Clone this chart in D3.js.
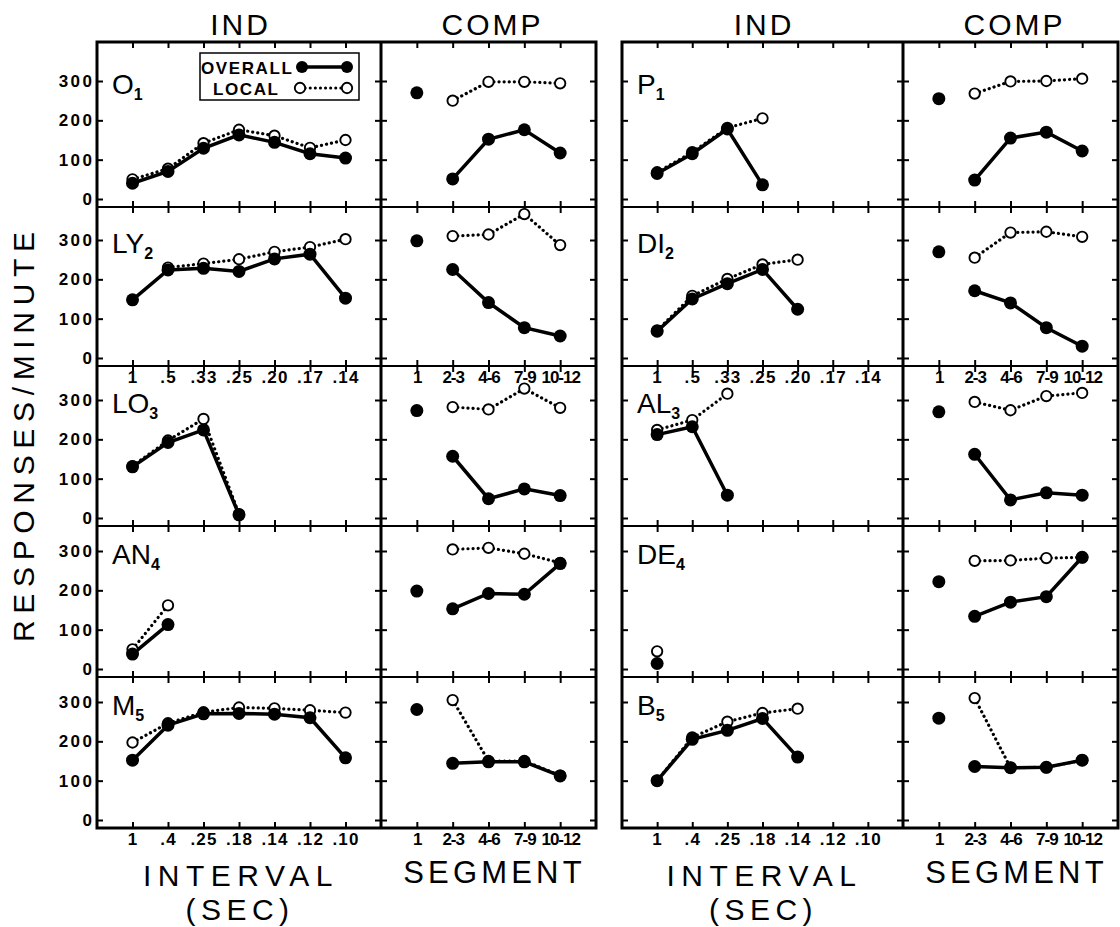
<!doctype html>
<html lang="en">
<head>
<meta charset="UTF-8">
<title>d3</title>
<script src="https://d3js.org/d3.v7.min.js"></script>
<style>
  body { margin: 0; background: #fff; }
  svg { font-family: "Liberation Sans", Arial, sans-serif; }
  .ticks text { font-weight: bold; font-size: 17px; fill: #000; }
  .ticks line { stroke: #000; stroke-width: 2px; }
</style>
</head>
<body>
<div class="canvas"></div>
<script>
  // tick labels
  const indLabelsA = ["1", ".5", ".33", ".25", ".20", ".17", ".14"];
  const indLabelsB = ["1", ".4", ".25", ".18", ".14", ".12", ".10"];
  const segLabels = ["1", "2-3", "4-6", "7-9", "10-12"];
  const yTicks = [0, 100, 200, 300];

  // left panel subjects
  const o1IndOverall = [40, 70, 129, 163, 144, 115, 104];
  const o1IndLocal = [50, 77, 142, 176, 161, 130, 150];
  const o1CompOverall = [270, 51, 152, 176, 117];
  const o1CompLocal = [null, 250, 298, 298, 294];

  const ly2IndOverall = [148, 224, 228, 220, 252, 264, 152];
  const ly2IndLocal = [null, 230, 240, 251, 270, 282, 302];
  const ly2CompOverall = [298, 225, 141, 77, 56];
  const ly2CompLocal = [null, 310, 314, 366, 287];

  const lo3IndOverall = [130, 192, 224, 8];
  const lo3IndLocal = [132, 197, 252, 10];
  const lo3CompOverall = [273, 157, 49, 74, 57];
  const lo3CompLocal = [null, 282, 276, 329, 280];

  const an4IndOverall = [38, 113];
  const an4IndLocal = [50, 162];
  const an4CompOverall = [198, 153, 192, 190, 268];
  const an4CompLocal = [null, 304, 308, 293, 270];

  const m5IndOverall = [152, 241, 270, 271, 269, 260, 158];
  const m5IndLocal = [197, 246, 274, 286, 284, 279, 273];
  const m5CompOverall = [281, 144, 148, 148, 112];
  const m5CompLocal = [null, 305, 150, 150, 113];

  // right panel subjects
  const p1IndOverall = [65, 115, 178, 36];
  const p1IndLocal = [68, 119, 181, 205];
  const p1CompOverall = [255, 48, 155, 170, 122];
  const p1CompLocal = [null, 268, 299, 300, 306];

  const di2IndOverall = [68, 150, 189, 225, 124];
  const di2IndLocal = [70, 158, 201, 238, 250];
  const di2CompOverall = [270, 171, 140, 77, 30];
  const di2CompLocal = [null, 255, 319, 321, 308];

  const al3IndOverall = [212, 232, 58];
  const al3IndLocal = [224, 249, 316];
  const al3CompOverall = [270, 162, 46, 64, 58];
  const al3CompLocal = [null, 295, 274, 310, 318];

  const de4IndOverall = [14];
  const de4IndLocal = [45];
  const de4CompOverall = [222, 134, 170, 184, 284];
  const de4CompLocal = [null, 275, 276, 282, 284];

  const b5IndOverall = [100, 205, 228, 258, 160];
  const b5IndLocal = [100, 210, 250, 272, 283];
  const b5CompOverall = [259, 136, 133, 134, 152];
  const b5CompLocal = [null, 310, 133, 134, 152];

  const leftRows = [
    {name: "O", sub: "1", indO: o1IndOverall, indL: o1IndLocal, compO: o1CompOverall, compL: o1CompLocal},
    {name: "LY", sub: "2", indO: ly2IndOverall, indL: ly2IndLocal, compO: ly2CompOverall, compL: ly2CompLocal},
    {name: "LO", sub: "3", indO: lo3IndOverall, indL: lo3IndLocal, compO: lo3CompOverall, compL: lo3CompLocal},
    {name: "AN", sub: "4", indO: an4IndOverall, indL: an4IndLocal, compO: an4CompOverall, compL: an4CompLocal},
    {name: "M", sub: "5", indO: m5IndOverall, indL: m5IndLocal, compO: m5CompOverall, compL: m5CompLocal}
  ];
  const rightRows = [
    {name: "P", sub: "1", indO: p1IndOverall, indL: p1IndLocal, compO: p1CompOverall, compL: p1CompLocal},
    {name: "DI", sub: "2", indO: di2IndOverall, indL: di2IndLocal, compO: di2CompOverall, compL: di2CompLocal},
    {name: "AL", sub: "3", indO: al3IndOverall, indL: al3IndLocal, compO: al3CompOverall, compL: al3CompLocal},
    {name: "DE", sub: "4", indO: de4IndOverall, indL: de4IndLocal, compO: de4CompOverall, compL: de4CompLocal},
    {name: "B", sub: "5", indO: b5IndOverall, indL: b5IndLocal, compO: b5CompOverall, compL: b5CompLocal}
  ];

  const rowEdges = [42, 207, 366, 526, 677, 828];
  const panels = [
    {x: [97, 381, 596], rows: leftRows, yLabels: true},
    {x: [622, 903, 1118], rows: rightRows, yLabels: false}
  ];

  const svg = d3.select('.canvas')
    .append('svg')
    .attr('width', 1120)
    .attr('height', 927);

  const pts = arr => arr.map((v, i) => ({i, v})).filter(d => d.v != null);

  function drawSeries(parent, x, y, overall, local, isComp) {
    const g = parent.append('g');
    const line = d3.line().x(d => x(d.i)).y(d => y(d.v));
    const lp = pts(local);
    const op = pts(overall);
    const opLine = isComp ? op.filter(d => d.i > 0) : op;

    g.append('path')
      .attr('d', line(lp))
      .attr('fill', 'none')
      .attr('stroke', '#000')
      .attr('stroke-width', 3.2)
      .attr('stroke-linecap', 'round')
      .attr('stroke-dasharray', '0.1 5');

    g.append('path')
      .attr('d', line(opLine))
      .attr('fill', 'none')
      .attr('stroke', '#000')
      .attr('stroke-width', 3.5);

    g.selectAll('.open')
      .data(lp)
      .join('circle')
      .attr('class', 'open')
      .attr('cx', d => x(d.i))
      .attr('cy', d => y(d.v))
      .attr('r', 5.2)
      .attr('fill', '#fff')
      .attr('stroke', '#000')
      .attr('stroke-width', 1.9);

    g.selectAll('.filled')
      .data(op)
      .join('circle')
      .attr('class', 'filled')
      .attr('cx', d => x(d.i))
      .attr('cy', d => y(d.v))
      .attr('r', 6.5)
      .attr('fill', '#000');
  }

  panels.forEach(p => {
    const [x0, x1, x2] = p.x;
    const xInd = d3.scalePoint().domain(d3.range(7)).range([x0, x1]).padding(1);
    const xComp = d3.scalePoint().domain(d3.range(5)).range([x1, x2]).padding(1);

    p.rows.forEach((row, r) => {
      const top = rowEdges[r], bottom = rowEdges[r + 1];
      const y = d3.scaleLinear().domain([0, 300]).range([bottom - 8, bottom - 126]);
      const g = svg.append('g');

      // inward tick marks on all sides
      [[x0, xInd], [x1, xComp]].forEach(([left, xs], k) => {
        const right = k === 0 ? x1 : x2;
        g.append('g').attr('class', 'ticks').attr('transform', `translate(${left},0)`)
          .call(d3.axisLeft(y).tickValues(yTicks).tickSize(-6).tickFormat(''))
          .call(a => a.select('.domain').remove());
        g.append('g').attr('class', 'ticks').attr('transform', `translate(${right},0)`)
          .call(d3.axisRight(y).tickValues(yTicks).tickSize(-6).tickFormat(''))
          .call(a => a.select('.domain').remove());
        g.append('g').attr('class', 'ticks').attr('transform', `translate(0,${top})`)
          .call(d3.axisTop(xs).tickSize(-6).tickFormat(''))
          .call(a => a.select('.domain').remove());
        g.append('g').attr('class', 'ticks').attr('transform', `translate(0,${bottom})`)
          .call(d3.axisBottom(xs).tickSize(-6).tickFormat(''))
          .call(a => a.select('.domain').remove());
      });

      // y tick labels
      if (p.yLabels) {
        g.append('g').attr('class', 'ticks').attr('transform', `translate(${x0},0)`)
          .call(d3.axisLeft(y).tickValues(yTicks).tickSize(0).tickPadding(5))
          .call(a => a.select('.domain').remove())
          .selectAll('text')
          .attr('font-size', 18)
          .attr('letter-spacing', 2.5)
          .attr('dx', 2.5);
      }

      // x tick labels under row 2 and row 5
      if (r === 1 || r === 4) {
        const labs = r === 1 ? indLabelsA : indLabelsB;
        g.append('g').attr('class', 'ticks').attr('transform', `translate(0,${bottom})`)
          .call(d3.axisBottom(xInd).tickSize(0).tickPadding(5).tickFormat(i => labs[i]))
          .call(a => a.select('.domain').remove())
          .selectAll('text').attr('letter-spacing', 1.2);
        g.append('g').attr('class', 'ticks').attr('transform', `translate(0,${bottom})`)
          .call(d3.axisBottom(xComp).tickSize(0).tickPadding(5).tickFormat(i => segLabels[i]))
          .call(a => a.select('.domain').remove())
          .selectAll('text').attr('letter-spacing', -1);
      }

      // row separator
      if (r > 0) {
        g.append('line')
          .attr('x1', x0).attr('x2', x2)
          .attr('y1', top).attr('y2', top)
          .attr('stroke', '#000').attr('stroke-width', 2.2);
      }

      // subject label
      const lab = g.append('text')
        .attr('x', x0 + 15)
        .attr('y', y(300) + 12.5)
        .attr('font-size', 28);
      lab.append('tspan').text(row.name);
      lab.append('tspan').text(row.sub)
        .attr('font-size', 16).attr('font-weight', 'bold').attr('dy', 6);

      drawSeries(g, xInd, y, row.indO, row.indL, false);
      drawSeries(g, xComp, y, row.compO, row.compL, true);

      // legend in first cell
      if (p.yLabels && r === 0) {
        const lg = g.append('g');
        lg.append('rect')
          .attr('x', 200).attr('y', 53).attr('width', 159).attr('height', 47)
          .attr('fill', '#fff').attr('stroke', '#000').attr('stroke-width', 1.5);
        lg.append('text').text('OVERALL')
          .attr('x', 201).attr('y', 74)
          .attr('font-size', 17).attr('font-weight', 'bold').attr('letter-spacing', 1.6);
        lg.append('text').text('LOCAL')
          .attr('x', 213).attr('y', 95)
          .attr('font-size', 17).attr('font-weight', 'bold').attr('letter-spacing', 1.6);
        lg.append('line').attr('x1', 302).attr('x2', 347).attr('y1', 67).attr('y2', 67)
          .attr('stroke', '#000').attr('stroke-width', 3.5);
        lg.append('line').attr('x1', 300).attr('x2', 347).attr('y1', 88).attr('y2', 88)
          .attr('stroke', '#000').attr('stroke-width', 3).attr('stroke-linecap', 'round')
          .attr('stroke-dasharray', '0.1 5');
        [302, 347].forEach(cx => lg.append('circle').attr('cx', cx).attr('cy', 67).attr('r', 6).attr('fill', '#000'));
        [300, 347].forEach(cx => lg.append('circle').attr('cx', cx).attr('cy', 88).attr('r', 5.2)
          .attr('fill', '#fff').attr('stroke', '#000').attr('stroke-width', 1.9));
      }
    });

    // frames
    svg.append('rect')
      .attr('x', x0).attr('y', rowEdges[0])
      .attr('width', x2 - x0).attr('height', rowEdges[5] - rowEdges[0])
      .attr('fill', 'none').attr('stroke', '#000').attr('stroke-width', 3);
    svg.append('line')
      .attr('x1', x1).attr('x2', x1).attr('y1', rowEdges[0]).attr('y2', rowEdges[5])
      .attr('stroke', '#000').attr('stroke-width', 3);

    // headers
    svg.append('text').text('IND')
      .attr('x', (x0 + x1) / 2 + 1.5).attr('y', 35)
      .attr('text-anchor', 'middle').attr('font-size', 30).attr('letter-spacing', 3);
    svg.append('text').text('COMP')
      .attr('x', (x1 + x2) / 2 + 4).attr('y', 35)
      .attr('text-anchor', 'middle').attr('font-size', 30).attr('letter-spacing', 3);

    // bottom titles
    svg.append('text').text('INTERVAL')
      .attr('x', (x0 + x1) / 2 + 2).attr('y', 886)
      .attr('text-anchor', 'middle').attr('font-size', 30).attr('letter-spacing', 6.5);
    svg.append('text').text('(SEC)')
      .attr('x', (x0 + x1) / 2 + 1).attr('y', 920)
      .attr('text-anchor', 'middle').attr('font-size', 30).attr('letter-spacing', 5.5);
    svg.append('text').text('SEGMENT')
      .attr('x', (x1 + x2) / 2 + 6).attr('y', 883)
      .attr('text-anchor', 'middle').attr('font-size', 31).attr('letter-spacing', 4.2);
  });

  // y axis title
  svg.append('text').text('RESPONSES/MINUTE')
    .attr('transform', 'translate(34,437) rotate(-90)')
    .attr('text-anchor', 'middle')
    .attr('font-size', 30)
    .attr('textLength', 410)
    .attr('lengthAdjust', 'spacing');
</script>
</body>
</html>
